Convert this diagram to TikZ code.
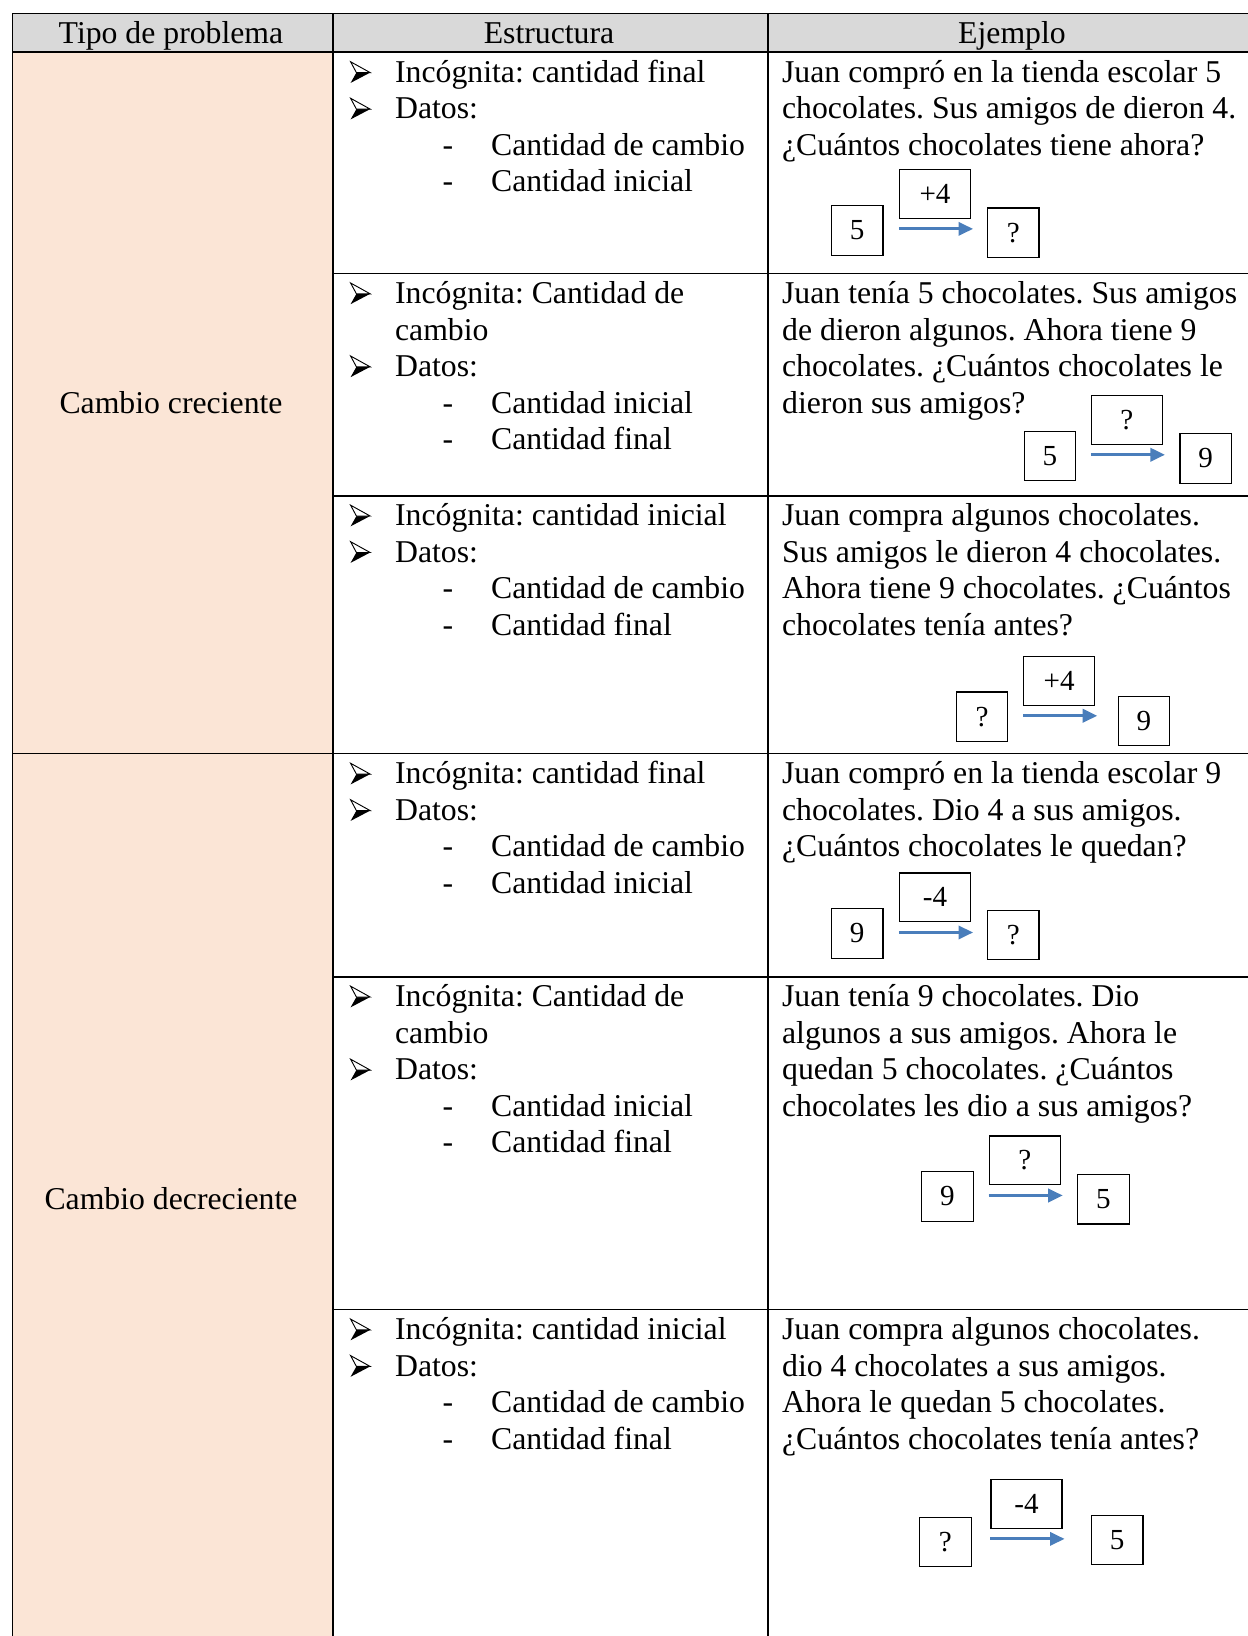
\documentclass[tikz,border=0pt]{standalone}
\usepackage{fontspec}
\setmainfont{Liberation Serif}
\usetikzlibrary{arrows.meta}
\definecolor{encab}{HTML}{D9D9D9}
\definecolor{durazno}{HTML}{FBE5D6}
\definecolor{azul}{HTML}{4A7EBB}
\newcommand{\punta}{\tikz[x=1pt,y=1pt,baseline=0pt,line width=.35pt,line join=miter]{\fill (0,-.2)--(7.4,3.7)--(2.2,3.7)--cycle;\filldraw[fill=white] (0,7.8)--(7.4,3.7)--(2.2,3.7)--cycle;}}
\newcommand{\vi}[1]{\makebox[17pt][l]{\punta}#1}
\newcommand{\gu}[1]{\hspace*{35pt}\makebox[18.3pt][l]{-}#1}
\frenchspacing

\begin{document}
\begin{tikzpicture}[x=0.378pt,y=-0.378pt,every node/.style={font=\fontsize{12}{13.8}\selectfont},
  tabla/.style={line width=.6pt},
  celda/.style={anchor=north west,align=left,inner sep=0pt,execute at begin node=\strut},
  caja/.style={draw,line width=.45pt,minimum width=19.5pt,minimum height=18.7pt,inner sep=0pt,font=\fontsize{11}{12}\selectfont},
  oper/.style={caja,minimum width=26.8pt,minimum height=18.5pt},
  flecha/.style={-{Triangle[length=5.5pt,width=5pt]},draw=azul,fill=azul,line width=1.1pt}]
\useasboundingbox (0,0) rectangle (1248,1636);
\fill[encab] (12.5,13.5) rectangle (1248,52);\fill[durazno] (12.5,52) rectangle (333,1636);
\draw[tabla] (12.5,1636)--(12.5,13.5)--(1248,13.5);\draw[tabla] (12.5,52)--(1248,52);\draw[tabla] (12.5,753.4)--(1248,753.4);
\draw[tabla] (333,13.5)--(333,1636);\draw[tabla] (768,13.5)--(768,1636);
\foreach \y in {273.4,495.7,976.7,1309.6} \draw[tabla] (333,\y)--(1248,\y);
% encabezado
\node[anchor=base] (h1) at (171,43) {Tipo de problema};
\node[anchor=base] (h2) at (549,43) {Estructura};
\node[anchor=base] (h3) at (1012,43) {Ejemplo};
\node[anchor=base] (t1) at (171,413) {Cambio creciente};
\node[anchor=base] (t2) at (171,1209) {Cambio decreciente};
% estructura
\node[celda] (s1) at (349.6,59.5) {\vi{Incógnita: cantidad final}\\\vi{Datos:}\\\gu{Cantidad de cambio}\\\gu{Cantidad inicial}};
\node[celda] (s2) at (349.6,281) {\vi{Incógnita: Cantidad de}\\\hspace*{17pt}cambio\\\vi{Datos:}\\\gu{Cantidad inicial}\\\gu{Cantidad final}};
\node[celda] (s3) at (349.6,503.2) {\vi{Incógnita: cantidad inicial}\\\vi{Datos:}\\\gu{Cantidad de cambio}\\\gu{Cantidad final}};
\node[celda] (s4) at (349.6,761) {\vi{Incógnita: cantidad final}\\\vi{Datos:}\\\gu{Cantidad de cambio}\\\gu{Cantidad inicial}};
\node[celda] (s5) at (349.6,984.2) {\vi{Incógnita: Cantidad de}\\\hspace*{17pt}cambio\\\vi{Datos:}\\\gu{Cantidad inicial}\\\gu{Cantidad final}};
\node[celda] (s6) at (349.6,1317.1) {\vi{Incógnita: cantidad inicial}\\\vi{Datos:}\\\gu{Cantidad de cambio}\\\gu{Cantidad final}};
% ejemplos
\node[celda] (e1) at (781.6,59.5) {Juan compró en la tienda escolar 5\\chocolates. Sus amigos de dieron 4.\\¿Cuántos chocolates tiene ahora?};
\node[celda] (e2) at (781.6,281) {Juan tenía 5 chocolates. Sus amigos\\de dieron algunos. Ahora tiene 9\\chocolates. ¿Cuántos chocolates le\\dieron sus amigos?};
\node[celda] (e3) at (781.6,503.2) {Juan compra algunos chocolates.\\Sus amigos le dieron 4 chocolates.\\Ahora tiene 9 chocolates. ¿Cuántos\\chocolates tenía antes?};
\node[celda] (e4) at (781.6,761) {Juan compró en la tienda escolar 9\\chocolates. Dio 4 a sus amigos.\\¿Cuántos chocolates le quedan?};
\node[celda] (e5) at (781.6,984.2) {Juan tenía 9 chocolates. Dio\\algunos a sus amigos. Ahora le\\quedan 5 chocolates. ¿Cuántos\\chocolates les dio a sus amigos?};
\node[celda] (e6) at (781.6,1317.1) {Juan compra algunos chocolates.\\dio 4 chocolates a sus amigos.\\Ahora le quedan 5 chocolates.\\¿Cuántos chocolates tenía antes?};
% cajas
\node[caja] (a1) at (857.2,230.5) {5};\node[oper] (o1) at (935,193.8) {+4};\node[caja] (b1) at (1013.2,232.7) {?};
\node[caja] (a2) at (1049.9,455.9) {5};\node[oper] (o2) at (1126.9,419.7) {?};\node[caja] (b2) at (1205.7,458.4) {9};
\node[caja] (a3) at (982,716.7) {?};\node[oper] (o3) at (1059.2,680.7) {+4};\node[caja] (b3) at (1144,721) {9};
\node[caja] (a4) at (857.2,933.4) {9};\node[oper] (o4) at (935,897.4) {-4};\node[caja] (b4) at (1013.2,935) {?};
\node[caja] (a5) at (947.3,1196.4) {9};\node[oper] (o5) at (1024.7,1160.4) {?};\node[caja] (b5) at (1103.3,1199.3) {5};
\node[caja] (a6) at (945.3,1542) {?};\node[oper] (o6) at (1026.5,1503.8) {-4};\node[caja] (b6) at (1117.2,1540) {5};
\foreach \k in {1,...,6} \draw[flecha] ([shift={(0,10)}]o\k.south west)--([shift={(2,10)}]o\k.south east);
\end{tikzpicture}
\end{document}
